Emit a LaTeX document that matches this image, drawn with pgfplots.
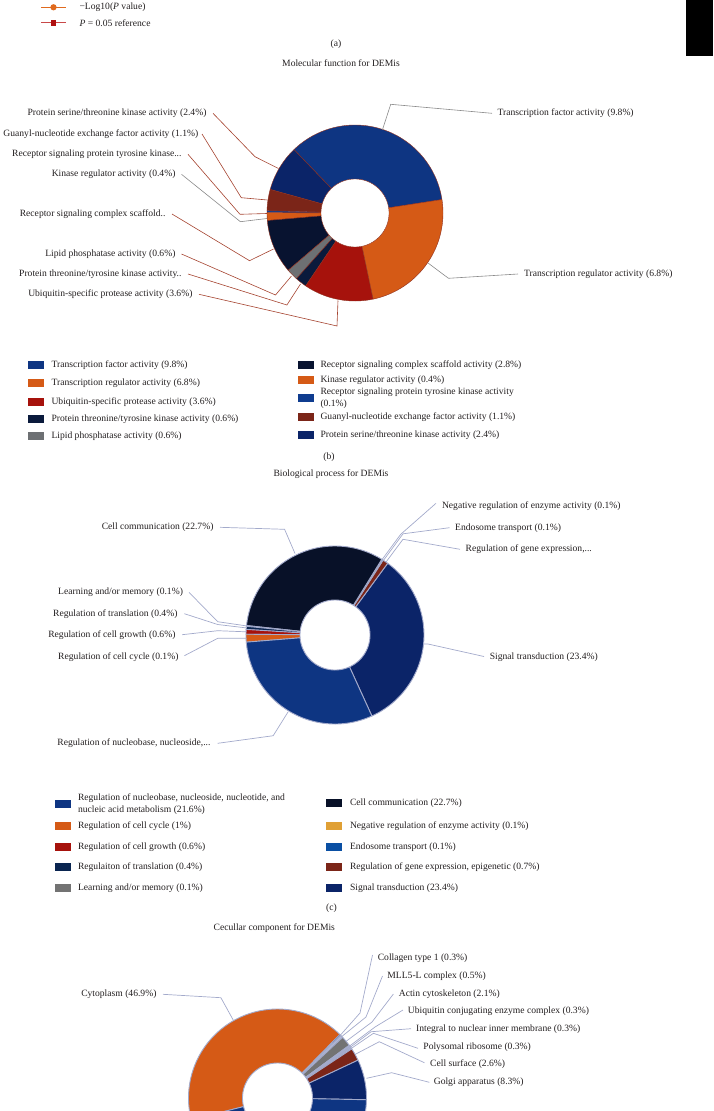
\documentclass[border=0pt]{standalone}
\usepackage{fontspec}
\setmainfont{Liberation Serif}
\usepackage{pgfplots}
\pgfplotsset{compat=1.18}

\definecolor{txt}{HTML}{231F20}
% MF colours
\definecolor{cBlue}{HTML}{0E3582}
\definecolor{cOrange}{HTML}{D55A16}
\definecolor{cRed}{HTML}{A6120C}
\definecolor{cNavyDark}{HTML}{0A1A3C}
\definecolor{cGrey}{HTML}{6D7073}
\definecolor{cScaf}{HTML}{081330}
\definecolor{cBlue2}{HTML}{0F3C8F}
\definecolor{cBrown}{HTML}{7B2518}
\definecolor{cNavy}{HTML}{0B2468}
\definecolor{mfedge}{HTML}{8E3020}
\definecolor{mfline}{HTML}{A5432F}
\definecolor{gline}{HTML}{8A8A8A}
% BP / CC colours
\definecolor{cTrans}{HTML}{0A2550}
\definecolor{cLearn}{HTML}{737373}
\definecolor{cComm}{HTML}{081128}
\definecolor{cNeg}{HTML}{E0A035}
\definecolor{cEndo}{HTML}{0A4FA3}
\definecolor{bpedge}{HTML}{A3AACB}
\definecolor{cLav}{HTML}{B4BAD6}
\definecolor{cLav2}{HTML}{C6CAE0}
\definecolor{legOr}{HTML}{E06A1E}
\definecolor{legRd}{HTML}{C84848}
\definecolor{legRdM}{HTML}{B01010}

\newcommand{\lbl}{\fontsize{9.6}{11}\selectfont\color{txt}}

% wedge: centre x, centre y, radius, from angle, to angle, style
\newcommand{\slice}[6]{\addplot[#6, domain=#4:#5, samples=60, variable=\t] ({#1+#3*cos(\t)},{#2-#3*sin(\t)}) -- (axis cs:#1,#2) -- cycle;}
\newcommand{\hole}[4]{\addplot[#4, fill=white, domain=0:360, samples=120, variable=\t] ({#1+#3*cos(\t)},{#2-#3*sin(\t)}) -- cycle;}
\newcommand{\key}[3]{\fill[#3] (axis cs:#1,#2-4) rectangle (axis cs:#1+16,#2+4);}

\begin{document}
\begin{tikzpicture}
\begin{axis}[name=ax, scale only axis, width=714pt, height=1111pt,
  xmin=0, xmax=714, ymin=0, ymax=1111, y dir=reverse, hide axis, clip=true,
  mfs/.style={draw=mfedge, line width=0.4pt},
  bps/.style={draw=bpedge, line width=0.9pt},
  ldm/.style={draw=mfline, line width=0.6pt, no marks},
  ldg/.style={draw=gline, line width=0.6pt, no marks},
  ldb/.style={draw=bpedge, line width=0.7pt, no marks}]

% ---------- panel (a) legend remnant ----------
\addplot[legOr, line width=1pt, mark=*, mark size=2.6pt, mark indices={2}] coordinates {(41,7.3) (53.5,7.3) (66,7.3)};
\addplot[legRd, line width=1pt, mark=square*, mark size=2.4pt, mark options={fill=legRdM, draw=legRdM}, mark indices={2}] coordinates {(41,22.7) (53.5,22.7) (66,22.7)};
\node[anchor=west, font=\lbl] at (axis cs:76,7.3) {−Log10(\textit{P} value)};
\node[anchor=west, font=\lbl] at (axis cs:76,22.7) {\textit{P} = 0.05 reference};
\node[font=\lbl] at (axis cs:336,44) {(a)};
\fill[black] (axis cs:686,0) rectangle (axis cs:713,56);

% ---------- (b) Molecular function ----------
\node[font=\lbl] at (axis cs:341,63.3) {Molecular function for DEMis};
% shares: 9.8, 6.8, 3.6, 0.6, 0.6, 2.8, 0.4, 0.1, 1.1, 2.4 (total 28.2)
\slice{355}{213}{88}{8.8}{133.9}{mfs, fill=cBlue}
\slice{355}{213}{88}{133.9}{164.5}{mfs, fill=cNavy}
\slice{355}{213}{88}{164.5}{178.5}{mfs, fill=cBrown}
\slice{355}{213}{88}{178.5}{179.8}{mfs, fill=cBlue2}
\slice{355}{213}{88}{179.8}{184.9}{mfs, fill=cOrange}
\slice{355}{213}{88}{184.9}{220.6}{mfs, fill=cScaf}
\slice{355}{213}{88}{220.6}{228.3}{mfs, fill=cGrey}
\slice{355}{213}{88}{228.3}{235.9}{mfs, fill=cNavyDark}
\slice{355}{213}{88}{235.9}{281.9}{mfs, fill=cRed}
\slice{355}{213}{88}{281.9}{368.8}{mfs, fill=cOrange}
\hole{355}{213}{34}{mfs}

\addplot[ldg] coordinates {(492,113.3) (390.7,104.3) (382.5,129.6)};
\addplot[ldg] coordinates {(518,274) (448.5,278.3) (428,263)};
\addplot[ldm] coordinates {(213,113.3) (255,156.7) (278.5,168.5)};
\addplot[ldm] coordinates {(202,134) (241.3,197.7) (267.5,200)};
\addplot[ldm] coordinates {(188,154.3) (240,214.3) (267,213.5)};
\addplot[ldg] coordinates {(181.5,174.3) (240.4,221.7) (267,218.5)};
\addplot[ldm] coordinates {(172,214) (249.5,260.7) (273.5,249)};
\addplot[ldm] coordinates {(181.5,254) (275.5,295) (291.5,276)};
\addplot[ldm] coordinates {(188,274) (286.9,305) (300.5,284)};
\addplot[ldm] coordinates {(199,294.3) (337,326) (338,300.5)};

\node[anchor=west, font=\lbl] at (axis cs:494,113.3) {Transcription factor activity (9.8\%)};
\node[anchor=west, font=\lbl] at (axis cs:520.5,274) {Transcription regulator activity (6.8\%)};
\node[anchor=east, font=\lbl] at (axis cs:210,113.3) {Protein serine/threonine kinase activity (2.4\%)};
\node[anchor=east, font=\lbl, inner sep=1pt] at (axis cs:199.5,134) {Guanyl-nucleotide exchange factor activity (1.1\%)};
\node[anchor=east, font=\lbl] at (axis cs:185,153.8) {Receptor signaling protein tyrosine kinase...};
\node[anchor=east, font=\lbl] at (axis cs:179,174.3) {Kinase regulator activity (0.4\%)};
\node[anchor=east, font=\lbl] at (axis cs:169,214) {Receptor signaling complex scaffold..};
\node[anchor=east, font=\lbl] at (axis cs:179,254) {Lipid phosphatase activity (0.6\%)};
\node[anchor=east, font=\lbl] at (axis cs:185,274) {Protein threonine/tyrosine kinase activity..};
\node[anchor=east, font=\lbl] at (axis cs:196,294.3) {Ubiquitin-specific protease activity (3.6\%)};

% legend (b)
\key{28}{365}{cBlue}
\key{28}{383.3}{cOrange}
\key{28}{401.7}{cRed}
\key{28}{419.3}{cNavyDark}
\key{28}{436}{cGrey}
\node[anchor=west, font=\lbl] at (axis cs:48,365) {Transcription factor activity (9.8\%)};
\node[anchor=west, font=\lbl] at (axis cs:48,383.3) {Transcription regulator activity (6.8\%)};
\node[anchor=west, font=\lbl] at (axis cs:48,401.7) {Ubiquitin-specific protease activity (3.6\%)};
\node[anchor=west, font=\lbl] at (axis cs:48,419.3) {Protein threonine/tyrosine kinase activity (0.6\%)};
\node[anchor=west, font=\lbl] at (axis cs:48,436) {Lipid phosphatase activity (0.6\%)};
\key{298}{365}{cScaf}
\key{298}{380}{cOrange}
\key{298}{397.7}{cBlue2}
\key{298}{417.3}{cBrown}
\key{298}{435}{cNavy}
\node[anchor=west, font=\lbl] at (axis cs:317,365) {Receptor signaling complex scaffold activity (2.8\%)};
\node[anchor=west, font=\lbl] at (axis cs:317,380) {Kinase regulator activity (0.4\%)};
\node[anchor=west, font=\lbl] at (axis cs:317,392.3) {Receptor signaling protein tyrosine kinase activity};
\node[anchor=west, font=\lbl] at (axis cs:317,404) {(0.1\%)};
\node[anchor=west, font=\lbl] at (axis cs:317,417.3) {Guanyl-nucleotide exchange factor activity (1.1\%)};
\node[anchor=west, font=\lbl] at (axis cs:317,435) {Protein serine/threonine kinase activity (2.4\%)};
\node[font=\lbl] at (axis cs:329,456.7) {(b)};

% ---------- (c) Biological process ----------
\node[font=\lbl] at (axis cs:331,474.3) {Biological process for DEMis};
% shares: 21.6, 1, 0.6, 0.4, 0.1, 22.7, 0.1, 0.1, 0.7, 23.4 (total 70.7)
\slice{335}{635}{89}{-65.5}{53.7}{bps, fill=cNavy}
\slice{335}{635}{89}{53.7}{57.3}{bps, fill=cBrown}
\slice{335}{635}{89}{57.3}{57.8}{bps, fill=cEndo}
\slice{335}{635}{89}{57.8}{58.3}{bps, fill=cNeg}
\slice{335}{635}{89}{58.3}{173.9}{bps, fill=cComm}
\slice{335}{635}{89}{173.9}{174.4}{bps, fill=cLearn}
\slice{335}{635}{89}{174.4}{176.4}{bps, fill=cTrans}
\slice{335}{635}{89}{176.4}{179.5}{bps, fill=cRed}
\slice{335}{635}{89}{179.5}{184.6}{bps, fill=cOrange}
\slice{335}{635}{89}{184.6}{294.5}{bps, fill=cBlue}
\hole{335}{635}{35}{bps}

\addplot[ldb] coordinates {(220,527.3) (284.6,529.3) (295,553.5)};
\addplot[ldb] coordinates {(436,503.3) (400.7,534.3) (382.1,559.5)};
\addplot[ldb] coordinates {(449.5,527.7) (403,533.8) (383,561)};
\addplot[ldb] coordinates {(460,549.3) (403,539.3) (386,562)};
\addplot[ldb] coordinates {(189,592.3) (217.7,621.7) (246.5,625.9)};
\addplot[ldb] coordinates {(184.4,613.7) (217.7,624.5) (246.3,627.9)};
\addplot[ldb] coordinates {(182.1,634.7) (217.7,630.7) (246.1,631.8)};
\addplot[ldb] coordinates {(184.4,655.7) (217.7,638.3) (246.1,638.2)};
\addplot[ldb] coordinates {(484,656.5) (428,644) (424,644)};
\addplot[ldb] coordinates {(217.7,743.3) (273.2,735.7) (288,712)};

\node[anchor=west, font=\lbl] at (axis cs:438.5,505.7) {Negative regulation of enzyme activity (0.1\%)};
\node[anchor=west, font=\lbl] at (axis cs:451.7,527.7) {Endosome transport (0.1\%)};
\node[anchor=west, font=\lbl] at (axis cs:462.2,549.3) {Regulation of gene expression,...};
\node[anchor=east, font=\lbl] at (axis cs:217,527.3) {Cell communication (22.7\%)};
\node[anchor=east, font=\lbl] at (axis cs:186.5,592.3) {Learning and/or memory (0.1\%)};
\node[anchor=east, font=\lbl] at (axis cs:181,613.7) {Regulation of translation (0.4\%)};
\node[anchor=east, font=\lbl] at (axis cs:179,634.7) {Regulation of cell growth (0.6\%)};
\node[anchor=east, font=\lbl] at (axis cs:182,657) {Regulation of cell cycle (0.1\%)};
\node[anchor=west, font=\lbl] at (axis cs:486.3,657) {Signal transduction (23.4\%)};
\node[anchor=east, font=\lbl] at (axis cs:214,743.3) {Regulation of nucleobase, nucleoside,...};

% legend (c)
\key{55}{804}{cBlue}
\key{55}{826}{cOrange}
\key{55}{846.7}{cRed}
\key{55}{867.3}{cTrans}
\key{55}{887.7}{cLearn}
\node[anchor=west, font=\lbl] at (axis cs:74.5,797.7) {Regulation of nucleobase, nucleoside, nucleotide, and};
\node[anchor=west, font=\lbl] at (axis cs:74.5,810) {nucleic acid metabolism (21.6\%)};
\node[anchor=west, font=\lbl] at (axis cs:74.5,826) {Regulation of cell cycle (1\%)};
\node[anchor=west, font=\lbl] at (axis cs:74.5,846.7) {Regulation of cell growth (0.6\%)};
\node[anchor=west, font=\lbl] at (axis cs:74.5,867.3) {Regulaiton of translation (0.4\%)};
\node[anchor=west, font=\lbl] at (axis cs:74.5,887.7) {Learning and/or memory (0.1\%)};
\key{325.6}{802.7}{cComm}
\key{325.6}{826}{cNeg}
\key{325.6}{846.7}{cEndo}
\key{325.6}{867.3}{cBrown}
\key{325.6}{887.7}{cNavy}
\node[anchor=west, font=\lbl] at (axis cs:346.5,802.7) {Cell communication (22.7\%)};
\node[anchor=west, font=\lbl] at (axis cs:346.5,826) {Negative regulation of enzyme activity (0.1\%)};
\node[anchor=west, font=\lbl] at (axis cs:346.5,846.7) {Endosome transport (0.1\%)};
\node[anchor=west, font=\lbl] at (axis cs:346.5,867.3) {Regulation of gene expression, epigenetic (0.7\%)};
\node[anchor=west, font=\lbl] at (axis cs:346.5,887.7) {Signal transduction (23.4\%)};
\node[font=\lbl] at (axis cs:331.5,908.3) {(c)};

% ---------- Cellular component ----------
\node[font=\lbl] at (axis cs:274.3,927.7) {Cecullar component for DEMis};
% shares: 46.9, 0.3, 0.5, 2.1, 0.3, 0.3, 0.3, 2.6, 8.3, ...
\slice{277.5}{1098}{89}{45.5}{194.2}{bps, fill=cOrange}
\slice{277.5}{1098}{89}{44.55}{45.5}{bps, fill=cNavy}
\slice{277.5}{1098}{89}{42.96}{44.55}{bps, fill=cLav}
\slice{277.5}{1098}{89}{36.3}{42.96}{bps, fill=cLearn}
\slice{277.5}{1098}{89}{35.35}{36.3}{bps, fill=cLav2}
\slice{277.5}{1098}{89}{34.4}{35.35}{bps, fill=cLav}
\slice{277.5}{1098}{89}{33.45}{34.4}{bps, fill=cLav2}
\slice{277.5}{1098}{89}{25.2}{33.45}{bps, fill=cBrown}
\slice{277.5}{1098}{89}{-1.1}{25.2}{bps, fill=cNavy}
\slice{277.5}{1098}{89}{-165.8}{-1.1}{bps, fill=cBlue}
\hole{277.5}{1098}{35}{bps}

\addplot[ldb] coordinates {(163,994.3) (220.9,997.7) (233.2,1020)};
\addplot[ldb] coordinates {(372.5,955) (360,1013) (340.4,1035.1)};
\addplot[ldb] coordinates {(382.5,976) (366,1017) (341.8,1036.5)};
\addplot[ldb] coordinates {(393.4,994) (372,1022) (346.1,1041.3)};
\addplot[ldb] coordinates {(403,1010) (375,1027) (349.7,1045.9)};
\addplot[ldb] coordinates {(411,1028.7) (371.1,1031.7) (350.5,1047.1)};
\addplot[ldb] coordinates {(418,1048.3) (373.4,1033.3) (351.3,1048.4)};
\addplot[ldb] coordinates {(424.4,1062.7) (379.3,1041.7) (355.1,1054.4)};
\addplot[ldb] coordinates {(429.4,1082.3) (391.6,1072.7) (366.5,1078.3)};

\node[anchor=east, font=\lbl] at (axis cs:160,994.3) {Cytoplasm (46.9\%)};
\node[anchor=west, font=\lbl] at (axis cs:374.3,957.7) {Collagen type 1 (0.3\%)};
\node[anchor=west, font=\lbl] at (axis cs:383.9,976) {MLL5-L complex (0.5\%)};
\node[anchor=west, font=\lbl] at (axis cs:395.3,994) {Actin cytoskeleton (2.1\%)};
\node[anchor=west, font=\lbl] at (axis cs:404.4,1011) {Ubiquitin conjugating enzyme complex (0.3\%)};
\node[anchor=west, font=\lbl] at (axis cs:412.6,1028.7) {Integral to nuclear inner membrane (0.3\%)};
\node[anchor=west, font=\lbl] at (axis cs:419.9,1046.7) {Polysomal ribosome (0.3\%)};
\node[anchor=west, font=\lbl] at (axis cs:426.7,1064) {Cell surface (2.6\%)};
\node[anchor=west, font=\lbl] at (axis cs:430.3,1082.3) {Golgi apparatus (8.3\%)};
\end{axis}
\pgfresetboundingbox
\path[use as bounding box] (ax.south west) rectangle (ax.north east);
\end{tikzpicture}
\end{document}
